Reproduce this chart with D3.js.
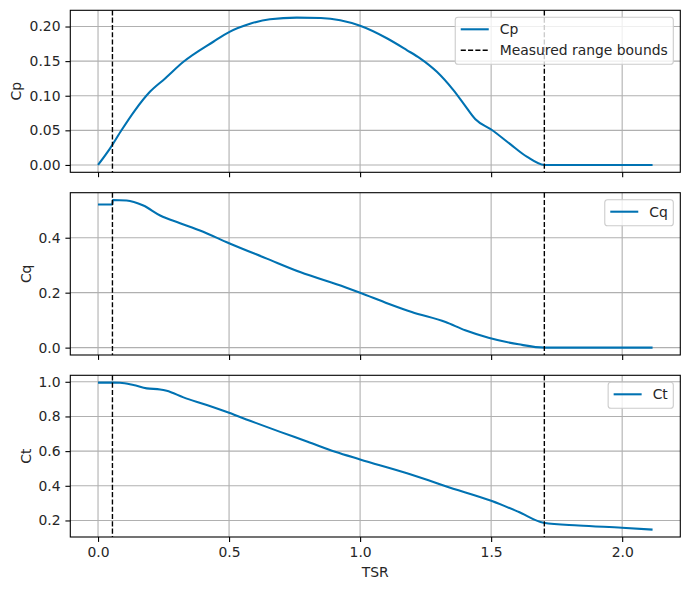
<!DOCTYPE html>
<html>
<head>
<meta charset="utf-8">
<script src="https://cdn.jsdelivr.net/npm/d3@7"></script>
<style>
  html, body { margin: 0; padding: 0; background: #fff; }
  svg { display: block; font-family: "DejaVu Sans", sans-serif; }
</style>
</head>
<body>
<svg id="chart" width="690" height="590"></svg>
<script>
// ---------------- data ----------------
const tsrCp = [0, 0.046, 0.090, 0.141, 0.198, 0.256, 0.326, 0.44, 0.5, 0.58, 0.656, 0.758, 0.85, 0.924, 1.0, 1.102, 1.178, 1.229, 1.293, 1.356, 1.394, 1.44, 1.503, 1.573, 1.636, 1.703, 1.9, 2.116];
const cpValues = [0, 0.024, 0.0505, 0.079, 0.1057, 0.125, 0.149, 0.178, 0.192, 0.204, 0.2105, 0.2128, 0.2122, 0.209, 0.201, 0.183, 0.166, 0.154, 0.1345, 0.108, 0.089, 0.066, 0.0505, 0.030, 0.012, 0.0, 0.0, 0.0];

const tsrCq = [0, 0.055, 0.056, 0.109, 0.173, 0.237, 0.313, 0.389, 0.5, 0.644, 0.771, 0.943, 1.0, 1.108, 1.197, 1.326, 1.401, 1.49, 1.605, 1.703, 1.9, 2.116];
const cqValues = [0.521, 0.521, 0.537, 0.5356, 0.517, 0.481, 0.453, 0.4265, 0.380, 0.324, 0.275, 0.220, 0.200, 0.160, 0.1296, 0.093, 0.063, 0.036, 0.012, 0.0, 0.0, 0.0];

const tsrCt = [0, 0.055, 0.084, 0.135, 0.186, 0.237, 0.262, 0.326, 0.415, 0.5, 0.58, 0.695, 0.8, 0.905, 1.0, 1.191, 1.261, 1.324, 1.503, 1.604, 1.70, 1.834, 1.999, 2.116];
const ctValues = [0.995, 0.995, 0.994, 0.981, 0.962, 0.956, 0.948, 0.910, 0.866, 0.821, 0.775, 0.711, 0.654, 0.596, 0.552, 0.467, 0.432, 0.399, 0.312, 0.250, 0.187, 0.171, 0.158, 0.147];

const measuredBounds = [0.055, 1.703];

const xTicks = [0, 0.5, 1.0, 1.5, 2.0];
const cpTicks = [0, 0.05, 0.10, 0.15, 0.20];
const cqTicks = [0, 0.2, 0.4];
const ctTicks = [0.2, 0.4, 0.6, 0.8, 1.0];

const seriesNames = ["Cp", "Cq", "Ct"];
const boundsLabel = "Measured range bounds";
const xLabel = "TSR";

// ---------------- layout ----------------
const svg = d3.select("#chart");
const left = 70.3, right = 680.3;
const panels = [
  { top: 10.3,  bottom: 172.3, x: tsrCp, y: cpValues, ticks: cpTicks, fmt: d3.format(".2f"), name: seriesNames[0], labelX: 20.5 },
  { top: 192.7, bottom: 355,   x: tsrCq, y: cqValues, ticks: cqTicks, fmt: d3.format(".1f"), name: seriesNames[1], labelX: 30.5 },
  { top: 375.3, bottom: 537,   x: tsrCt, y: ctValues, ticks: ctTicks, fmt: d3.format(".1f"), name: seriesNames[2], labelX: 30.5 }
];

const lineColor = "#0072b2";
const gridColor = "#b0b0b0";
const fontSize = 13.9;

function padded(ext) {
  const r = ext[1] - ext[0];
  return [ext[0] - 0.05 * r, ext[1] + 0.05 * r];
}

const allX = tsrCp.concat(tsrCq, tsrCt);
const x = d3.scaleLinear().domain(padded(d3.extent(allX))).range([left, right]);

panels.forEach((p, i) => {
  const y = d3.scaleLinear().domain(padded(d3.extent(p.y))).range([p.bottom, p.top]);
  const g = svg.append("g");
  const clipId = "clip" + i;
  svg.append("clipPath").attr("id", clipId)
    .append("rect").attr("x", left).attr("y", p.top).attr("width", right - left).attr("height", p.bottom - p.top);

  // grid
  g.append("g").selectAll("line").data(xTicks).join("line")
    .attr("x1", d => x(d)).attr("x2", d => x(d))
    .attr("y1", p.top).attr("y2", p.bottom)
    .attr("stroke", gridColor).attr("stroke-width", 1.1);
  g.append("g").selectAll("line").data(p.ticks).join("line")
    .attr("x1", left).attr("x2", right)
    .attr("y1", d => y(d)).attr("y2", d => y(d))
    .attr("stroke", gridColor).attr("stroke-width", 1.1);

  // series line
  const line = d3.line().x((d, k) => x(p.x[k])).y(d => y(d)).curve(d3.curveMonotoneX);
  g.append("path").datum(p.y)
    .attr("clip-path", `url(#${clipId})`)
    .attr("d", line)
    .attr("fill", "none").attr("stroke", lineColor).attr("stroke-width", 2.08)
    .attr("stroke-linejoin", "round").attr("stroke-linecap", "butt");

  // measured range bounds
  g.append("g").selectAll("line").data(measuredBounds).join("line")
    .attr("x1", d => x(d)).attr("x2", d => x(d))
    .attr("y1", p.top).attr("y2", p.bottom)
    .attr("stroke", "#000").attr("stroke-width", 1.39)
    .attr("stroke-dasharray", "5.1,2.2");

  // axes
  const yAxis = d3.axisLeft(y).tickValues(p.ticks).tickFormat(p.fmt).tickSize(4.9).tickPadding(4.9);
  const ya = g.append("g").attr("transform", `translate(${left},0)`).call(yAxis);
  const xAxis = d3.axisBottom(x).tickValues(xTicks).tickFormat(i === 2 ? d3.format(".1f") : () => "").tickSize(4.9).tickPadding(4.9);
  const xa = g.append("g").attr("transform", `translate(0,${p.bottom})`).call(xAxis);
  [ya, xa].forEach(a => {
    a.select(".domain").remove();
    a.selectAll("line").attr("stroke", "#000").attr("stroke-width", 1.1);
    a.selectAll("text").attr("fill", "#262626").style("font-size", fontSize + "px").style("font-family", "DejaVu Sans");
  });

  // frame
  g.append("rect").attr("x", left).attr("y", p.top).attr("width", right - left).attr("height", p.bottom - p.top)
    .attr("fill", "none").attr("stroke", "#000").attr("stroke-width", 1.1);

  // y label
  g.append("text")
    .attr("transform", `translate(${p.labelX},${(p.top + p.bottom) / 2}) rotate(-90)`)
    .attr("text-anchor", "middle").attr("fill", "#262626")
    .style("font-size", fontSize + "px")
    .text(p.name);

  // legend
  const entries = i === 0 ? [{ t: p.name, dash: false }, { t: boundsLabel, dash: true }] : [{ t: p.name, dash: false }];
  const lg = g.append("g");
  const boxRight = 673.3;
  const rowH = 21;
  const boxTop = p.top + 7;
  const tmp = lg.append("g");
  const widths = entries.map(e => {
    const t = tmp.append("text").style("font-size", fontSize + "px").text(e.t);
    const w = t.node().getComputedTextLength();
    t.remove();
    return w;
  });
  tmp.remove();
  const boxW = 5.5 + 28 + 11 + d3.max(widths) + 5.5;
  const boxH = 7 + rowH * entries.length - 2;
  const bx = boxRight - boxW;
  lg.append("rect").attr("x", bx).attr("y", boxTop).attr("width", boxW).attr("height", boxH)
    .attr("rx", 2.8).attr("fill", "#fff").attr("fill-opacity", 0.8)
    .attr("stroke", "#cccccc").attr("stroke-width", 1.1);
  entries.forEach((e, k) => {
    const cy = boxTop + 12 + k * rowH;
    lg.append("line").attr("x1", bx + 5.5).attr("x2", bx + 5.5 + 28).attr("y1", cy).attr("y2", cy)
      .attr("stroke", e.dash ? "#000" : lineColor).attr("stroke-width", e.dash ? 1.39 : 2.08)
      .attr("stroke-dasharray", e.dash ? "5.1,2.2" : null);
    lg.append("text").attr("x", bx + 5.5 + 28 + 11).attr("y", cy + 5)
      .attr("fill", "#262626").style("font-size", fontSize + "px").text(e.t);
  });
});

// x label
svg.append("text").attr("x", (left + right) / 2).attr("y", 577)
  .attr("text-anchor", "middle").attr("fill", "#262626")
  .style("font-size", fontSize + "px").text(xLabel);
</script>
</body>
</html>
